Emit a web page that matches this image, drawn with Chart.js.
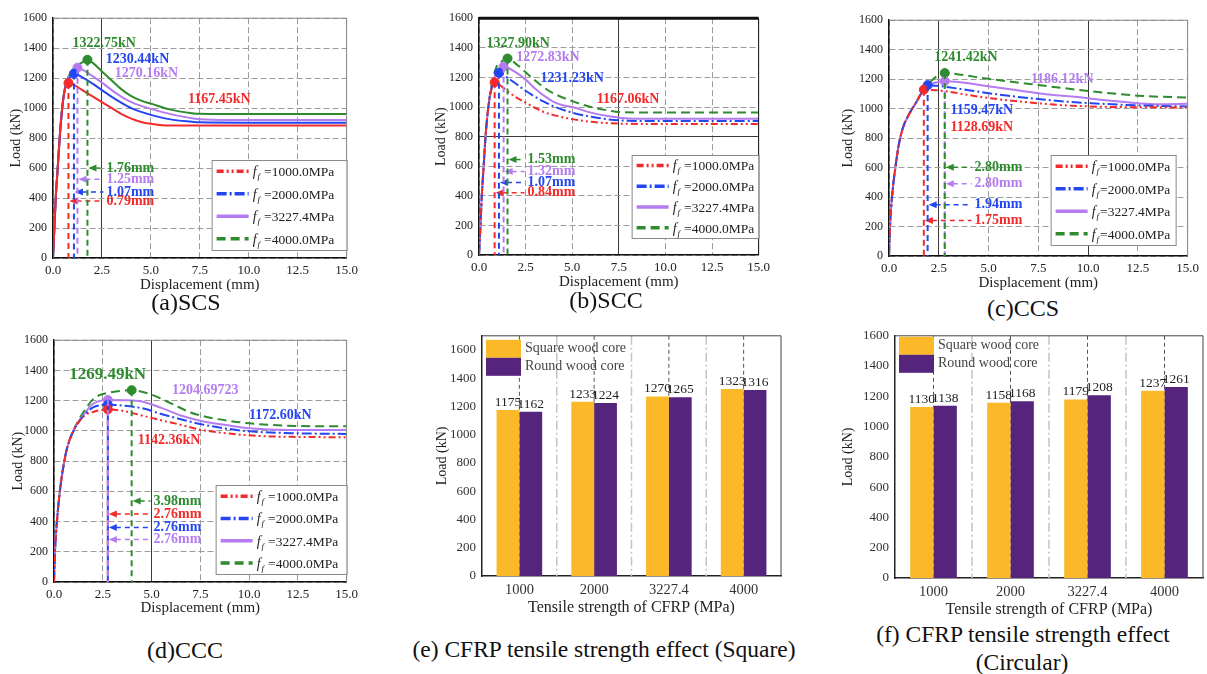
<!DOCTYPE html>
<html>
<head>
<meta charset="utf-8">
<script src="https://cdn.jsdelivr.net/npm/chart.js@4.4.0/dist/chart.umd.min.js"></script>
<style>
  body { margin: 0; background: #fff; width: 1207px; height: 674px; position: relative; overflow: hidden; font-family: "Liberation Serif", "Times New Roman", serif; }
  .panel { position: absolute; }
  .cap { position: absolute; transform: translateX(-50%); white-space: nowrap; line-height: 1; color: #111; }
</style>
</head>
<body>
<div class="panel" style="left:5px;top:5px;width:358px;height:289px"><canvas id="chartSCS"></canvas></div>
<div class="panel" style="left:430px;top:5px;width:345px;height:286px"><canvas id="chartSCC"></canvas></div>
<div class="panel" style="left:840px;top:7px;width:364px;height:285px"><canvas id="chartCCS"></canvas></div>
<div class="panel" style="left:10px;top:327px;width:353px;height:290px"><canvas id="chartCCC"></canvas></div>
<div class="panel" style="left:434px;top:322px;width:359px;height:295px"><canvas id="chartSquare"></canvas></div>
<div class="panel" style="left:840px;top:322px;width:367px;height:297px"><canvas id="chartCircular"></canvas></div>

<div class="cap" style="left:186px;top:290px;font-size:24px">(a)SCS</div>
<div class="cap" style="left:606px;top:288px;font-size:24px">(b)SCC</div>
<div class="cap" style="left:1023px;top:296px;font-size:24px">(c)CCS</div>
<div class="cap" style="left:185px;top:638px;font-size:24px">(d)CCC</div>
<div class="cap" style="left:604px;top:638px;font-size:23.5px">(e) CFRP tensile strength effect (Square)</div>
<div class="cap" style="left:1023px;top:623px;font-size:23.5px">(f) CFRP tensile strength effect</div>
<div class="cap" style="left:1022px;top:651px;font-size:23.5px">(Circular)</div>

<script>
const SERIF = '"Liberation Serif", "Times New Roman", serif';
Chart.defaults.font.family = SERIF;
Chart.defaults.color = '#222';

// CFRP tensile strength levels
const strengthTicks = ['1000', '2000', '3227.4', '4000'];
const legendStrengths = ['1000.0', '2000.0', '3227.4', '4000.0'];
// load axis tick values (kN)
const loadTicks = [0, 200, 400, 600, 800, 1000, 1200, 1400, 1600];

// (a) SCS load-displacement curves: [displacement (mm), load (kN)]
const scs1000 = [[0,0],[0.07,200],[0.14,400],[0.24,600],[0.34,800],[0.47,1000],[0.6,1120],[0.79,1167.45],[1.0,1160],[1.5,1120],[2.0,1080],[2.5,1040],[3.0,1000],[3.5,960],[4.0,930],[4.5,908],[5.0,895],[5.6,886],[6.5,884],[10,884],[15,884]];
const scs2000 = [[0,0],[0.07,200],[0.14,400],[0.24,600],[0.34,800],[0.47,1000],[0.6,1120],[0.8,1190],[1.07,1230.44],[1.5,1205],[2.0,1165],[2.5,1120],[3.0,1075],[3.5,1035],[4.0,1000],[4.5,975],[5.0,955],[6.0,925],[7.0,910],[7.5,905],[10,903],[15,903]];
const scs3227 = [[0,0],[0.07,200],[0.14,400],[0.24,600],[0.34,800],[0.47,1000],[0.6,1125],[0.85,1215],[1.25,1270.16],[1.6,1250],[2.0,1215],[2.5,1170],[3.0,1120],[3.5,1075],[4.0,1040],[4.5,1015],[5.0,995],[6.0,960],[7.0,935],[7.5,925],[9,920],[15,920]];
const scs4000 = [[0,0],[0.07,200],[0.14,400],[0.24,600],[0.34,800],[0.47,1000],[0.6,1130],[0.85,1225],[1.2,1280],[1.5,1305],[1.76,1322.75],[2.0,1305],[2.5,1245],[3.0,1185],[3.5,1125],[4.0,1080],[4.5,1050],[5.0,1030],[6.0,990],[7.0,968],[7.5,962],[10,960],[15,960]];
const scsPeakDisp = [0.79, 1.07, 1.25, 1.76];
const scsPeakLoad = [1167.45, 1230.44, 1270.16, 1322.75];

// (b) SCC
const scc1000 = [[0,0],[0.08,200],[0.15,400],[0.25,600],[0.35,800],[0.5,1000],[0.65,1110],[0.84,1167.06],[1.2,1140],[1.6,1100],[2.0,1065],[2.5,1030],[3.0,995],[3.5,965],[4.0,945],[5.0,918],[6.0,900],[7.5,888],[10,885],[15,885]];
const scc2000 = [[0,0],[0.08,200],[0.15,400],[0.25,600],[0.35,800],[0.5,1000],[0.65,1115],[0.85,1190],[1.07,1231.23],[1.5,1200],[2.0,1155],[2.5,1110],[3.0,1070],[3.5,1035],[4.0,1005],[5.0,962],[6.0,935],[7.5,910],[10,905],[15,905]];
const scc3227 = [[0,0],[0.08,200],[0.15,400],[0.25,600],[0.35,800],[0.5,1000],[0.65,1120],[0.95,1235],[1.32,1272.83],[1.6,1262],[2.0,1232],[2.5,1185],[3.0,1125],[3.5,1075],[4.0,1035],[4.5,1012],[5.0,1000],[6.0,962],[7.0,937],[8.0,922],[10,920],[15,920]];
const scc4000 = [[0,0],[0.08,200],[0.15,400],[0.25,600],[0.35,800],[0.5,1000],[0.65,1130],[0.9,1260],[1.2,1305],[1.53,1327.9],[2.0,1290],[2.5,1235],[3.0,1180],[3.5,1130],[4.0,1092],[5.0,1040],[6.0,1000],[7.0,975],[7.5,966],[10,962],[15,962]];
const sccPeakDisp = [0.84, 1.07, 1.32, 1.53];
const sccPeakLoad = [1167.06, 1231.23, 1272.83, 1327.90];

// (c) CCS
const ccs1000 = [[0,0],[0.05,200],[0.15,400],[0.3,580],[0.5,760],[0.7,870],[1.0,960],[1.4,1050],[1.75,1128.69],[2.2,1127],[3.0,1115],[4.0,1092],[5.0,1072],[6.0,1056],[7.5,1036],[9.0,1021],[10,1015],[12,1010],[15,1008]];
const ccs2000 = [[0,0],[0.05,200],[0.15,400],[0.3,580],[0.5,760],[0.7,870],[1.0,960],[1.4,1050],[1.7,1120],[1.94,1159.47],[2.4,1155],[3.0,1145],[4.0,1125],[5.0,1105],[6.0,1087],[7.5,1065],[9.0,1046],[10,1038],[12.5,1022],[15,1015]];
const ccs3227 = [[0,0],[0.05,200],[0.15,400],[0.3,580],[0.5,760],[0.7,870],[1.0,960],[1.4,1050],[1.7,1120],[2.1,1165],[2.5,1182],[2.8,1186.12],[3.5,1181],[5.0,1152],[7.5,1105],[10,1070],[11,1055],[12.5,1037],[13.5,1030],[15,1033]];
const ccs4000 = [[0,0],[0.05,200],[0.15,400],[0.3,580],[0.5,760],[0.7,870],[1.0,960],[1.4,1050],[1.7,1125],[2.1,1185],[2.5,1228],[2.8,1241.42],[3.5,1232],[5.0,1202],[7.5,1160],[10,1120],[12.5,1088],[15,1075]];
const ccsPeakDisp = [1.75, 1.94, 2.80, 2.80];
const ccsPeakLoad = [1128.69, 1159.47, 1186.12, 1241.42];

// (d) CCC
const ccc1000 = [[0,0],[0.05,200],[0.15,400],[0.3,600],[0.5,780],[0.7,900],[1.0,1000],[1.3,1065],[1.6,1105],[2.0,1125],[2.76,1142.36],[3.5,1133],[4.5,1102],[5.5,1070],[6.5,1040],[7.5,1008],[9.0,982],[10.5,966],[12.5,960],[15,958]];
const ccc2000 = [[0,0],[0.05,200],[0.15,400],[0.3,600],[0.5,780],[0.7,900],[1.0,1000],[1.3,1065],[1.6,1110],[2.0,1155],[2.76,1172.60],[3.5,1168],[4.5,1150],[5.5,1112],[6.5,1077],[7.5,1045],[9.0,1012],[10,997],[12.5,984],[15,980]];
const ccc3227 = [[0,0],[0.05,200],[0.15,400],[0.3,600],[0.5,780],[0.7,900],[1.0,1000],[1.3,1070],[1.6,1120],[1.9,1170],[2.3,1197],[2.76,1204.69723],[3.5,1203],[4.5,1194],[5.5,1152],[6.5,1102],[7.5,1067],[9.0,1035],[10,1018],[12,1006],[15,1005]];
const ccc4000 = [[0,0],[0.05,200],[0.15,400],[0.3,600],[0.5,780],[0.7,900],[1.0,1005],[1.3,1080],[1.6,1140],[1.9,1195],[2.3,1235],[2.8,1252],[3.98,1269.49],[5.0,1240],[6.0,1182],[7.0,1122],[8.0,1087],[9.0,1066],[10,1050],[12.5,1032],[15,1030]];
const cccPeakDisp = [2.76, 2.76, 2.76, 3.98];
const cccPeakLoad = [1142.36, 1172.60, 1204.69723, 1269.49];

// (e) square sections and (f) circular sections: peak load (kN)
const squareSecSquareCore = [1175, 1233, 1270, 1323];
const squareSecRoundCore = [1162, 1224, 1265, 1316];
const circSecSquareCore = [1130, 1158, 1179, 1237];
const circSecRoundCore = [1138, 1168, 1208, 1261];

const seriesColors = ['#f42a2a', '#2346f2', '#b47cf0', '#2e8b2e'];
const seriesDash = [[7, 3, 2, 3, 2, 3], [10, 3, 2, 3], [], [9, 5]];

function loadNotes(p) {
  return {
    id: 'loadNotes',
    afterDatasetsDraw(chart) {
      const { ctx, chartArea: a, scales: { x, y } } = chart;
      ctx.save();
      p.peakDisp.forEach((d, i) => {
        const col = seriesColors[i];
        const px = x.getPixelForValue(d);
        const py = y.getPixelForValue(p.peakLoad[i]);
        ctx.strokeStyle = col;
        ctx.fillStyle = col;
        // drop line from the peak down to the axis
        ctx.lineWidth = 2;
        ctx.setLineDash([6, 4]);
        ctx.beginPath(); ctx.moveTo(px, py); ctx.lineTo(px, a.bottom); ctx.stroke();
        // arrow back to the drop line with the displacement at peak
        const ay = y.getPixelForValue(p.arrowAt[i]);
        const tx = x.getPixelForValue(p.arrowTextX);
        ctx.lineWidth = 1.5;
        ctx.setLineDash([5, 4]);
        ctx.beginPath(); ctx.moveTo(px + 8, ay); ctx.lineTo(tx - 3, ay); ctx.stroke();
        ctx.setLineDash([]);
        ctx.beginPath(); ctx.moveTo(px + 1, ay); ctx.lineTo(px + 9, ay - 3.5); ctx.lineTo(px + 9, ay + 3.5); ctx.closePath(); ctx.fill();
        ctx.font = `bold 14px ${SERIF}`;
        ctx.textAlign = 'left';
        ctx.textBaseline = 'middle';
        ctx.fillText(d.toFixed(2) + 'mm', tx, ay);
        // peak load label
        const [lx, ly] = p.peakLabelAt[i];
        ctx.font = `bold ${p.peakFont[i]}px ${SERIF}`;
        ctx.textAlign = 'center';
        const txt = p.rawLabel[i] ? String(p.peakLoad[i]) : p.peakLoad[i].toFixed(2) + 'kN';
        ctx.fillText(txt, x.getPixelForValue(lx), y.getPixelForValue(ly));
      });
      ctx.restore();
    },
    afterDraw(chart) {
      const { ctx, chartArea: a } = chart;
      ctx.save();
      // top and right edges of the frame
      ctx.strokeStyle = p.frameColor;
      ctx.lineWidth = p.frameTop;
      ctx.beginPath(); ctx.moveTo(a.left, a.top); ctx.lineTo(a.right, a.top); ctx.stroke();
      ctx.lineWidth = 1;
      ctx.beginPath(); ctx.moveTo(a.right, a.top); ctx.lineTo(a.right, a.bottom); ctx.stroke();

      // legend box, bottom right
      const L = p.legend;
      const bx = a.right - L.right - L.w;
      const by = a.bottom - L.bottom - L.h;
      ctx.fillStyle = '#fff';
      ctx.fillRect(bx, by, L.w, L.h);
      ctx.strokeStyle = '#8a8a8a';
      ctx.strokeRect(bx + 0.5, by + 0.5, L.w, L.h);
      const rowH = L.h / 4;
      legendStrengths.forEach((s, i) => {
        const cy = by + rowH * (i + 0.5);
        ctx.strokeStyle = seriesColors[i];
        ctx.lineWidth = 3.5;
        ctx.setLineDash(seriesDash[i]);
        ctx.beginPath(); ctx.moveTo(bx + 5, cy); ctx.lineTo(bx + 37, cy); ctx.stroke();
        ctx.setLineDash([]);
        ctx.fillStyle = '#222';
        ctx.textAlign = 'left';
        ctx.textBaseline = 'alphabetic';
        let tx = bx + 41;
        ctx.font = `italic 14px ${SERIF}`;
        ctx.fillText('f', tx, cy + 5);
        tx += ctx.measureText('f').width + 1;
        ctx.font = `italic 9px ${SERIF}`;
        ctx.fillText('f', tx, cy + 8);
        tx += ctx.measureText('f').width + p.eqGap;
        ctx.font = `13.5px ${SERIF}`;
        ctx.fillText('=' + s + 'MPa', tx, cy + 5);
      });
      ctx.restore();
    }
  };
}

function loadChart(id, p) {
  const datasets = p.curves.map((pts, i) => ({
    data: pts.map(([x, y]) => ({ x, y })),
    borderColor: seriesColors[i],
    borderWidth: 2,
    borderDash: p.solid ? [] : seriesDash[i],
    pointRadius: 0,
    cubicInterpolationMode: 'monotone',
    fill: false
  }));
  p.peakDisp.forEach((d, i) => datasets.push({
    data: [{ x: d, y: p.peakLoad[i] }],
    showLine: false,
    pointRadius: 4.5,
    pointBackgroundColor: seriesColors[i],
    pointBorderColor: seriesColors[i],
    order: -1
  }));
  const gridColor = (list) => (c) => (c.tick && list.includes(c.tick.value) ? '#3a3a3a' : '#9c9c9c');
  const gridDash = (list) => (c) => (c.tick && list.includes(c.tick.value) ? [] : [6, 3]);
  new Chart(document.getElementById(id), {
    type: 'line',
    data: { datasets },
    options: {
      responsive: true,
      maintainAspectRatio: false,
      animation: false,
      layout: { padding: p.pad },
      plugins: { legend: { display: false }, tooltip: { enabled: false } },
      scales: {
        x: {
          type: 'linear', min: 0, max: 15,
          ticks: { stepSize: 2.5, callback: v => v.toFixed(1), font: { size: 13 }, padding: 5, maxRotation: 0, color: '#222' },
          grid: { color: gridColor(p.darkX), lineWidth: 1, drawTicks: false },
          border: { color: '#111', width: 1.5, dash: gridDash(p.darkX) },
          title: { display: true, text: 'Displacement (mm)', font: { size: 15 }, padding: 0, color: '#222' },
          afterFit: s => { s.height = p.xH; }
        },
        y: {
          min: 0, max: 1600,
          afterBuildTicks: s => { s.ticks = loadTicks.map(value => ({ value })); },
          ticks: { callback: v => String(v), font: { size: 12 }, padding: 6, color: '#222' },
          grid: { color: gridColor(p.darkY), lineWidth: 1, drawTicks: false },
          border: { color: '#111', width: 1.5, dash: gridDash(p.darkY) },
          title: { display: true, text: 'Load (kN)', font: { size: 14 }, padding: { top: p.yTitlePad, bottom: 0 }, color: '#222' },
          afterFit: s => { s.width = p.yW; }
        }
      }
    },
    plugins: [loadNotes(p)]
  });
}

loadChart('chartSCS', {
  curves: [scs1000, scs2000, scs3227, scs4000], peakDisp: scsPeakDisp, peakLoad: scsPeakLoad,
  solid: true, pad: { left: 0, top: 10, right: 15, bottom: 0 }, yW: 48, xH: 36, yTitlePad: 3,
  peakLabelAt: [[8.5, 1060], [4.32, 1323], [4.77, 1231], [2.62, 1435]], peakFont: [14, 14, 14, 14], rawLabel: [false, false, false, false],
  arrowAt: [380, 440, 525, 600], arrowTextX: 2.73,
  legend: { w: 135, h: 90, right: 0, bottom: 8 }, eqGap: 4,
  darkX: [2.5], darkY: [], frameColor: '#888', frameTop: 1
});
loadChart('chartSCC', {
  curves: [scc1000, scc2000, scc3227, scc4000], peakDisp: sccPeakDisp, peakLoad: sccPeakLoad,
  solid: false, pad: { left: 0, top: 10, right: 15, bottom: 0 }, yW: 49, xH: 36, yTitlePad: 3,
  peakLabelAt: [[8.0, 1053], [5.0, 1193], [3.7, 1333], [2.1, 1433]], peakFont: [14, 14, 14, 14], rawLabel: [false, false, false, false],
  arrowAt: [420, 490, 565, 645], arrowTextX: 2.6,
  legend: { w: 127, h: 83, right: 0, bottom: 17 }, eqGap: 4,
  darkX: [7.5], darkY: [800], frameColor: '#111', frameTop: 3
});
loadChart('chartCCS', {
  curves: [ccs1000, ccs2000, ccs3227, ccs4000], peakDisp: ccsPeakDisp, peakLoad: ccsPeakLoad,
  solid: false, pad: { left: 0, top: 10, right: 12, bottom: 0 }, yW: 49, xH: 36, yTitlePad: 0,
  peakLabelAt: [[4.66, 870], [4.66, 990], [8.7, 1198], [3.86, 1345]], peakFont: [14, 14, 14, 14], rawLabel: [false, false, false, false],
  arrowAt: [241, 348, 491, 602], arrowTextX: 4.3,
  legend: { w: 125, h: 90, right: 12, bottom: 11 }, eqGap: 1,
  darkX: [2.5, 10], darkY: [], frameColor: '#888', frameTop: 1
});
loadChart('chartCCC', {
  curves: [ccc1000, ccc2000, ccc3227, ccc4000], peakDisp: cccPeakDisp, peakLoad: cccPeakLoad,
  solid: false, pad: { left: 0, top: 10, right: 15, bottom: 0 }, yW: 44, xH: 35, yTitlePad: 0,
  peakLabelAt: [[5.9, 940], [11.6, 1105], [7.75, 1268], [2.75, 1373]], peakFont: [14, 14, 14, 17], rawLabel: [false, false, true, false],
  arrowAt: [450, 360, 281, 536], arrowTextX: 5.1,
  legend: { w: 131, h: 89, right: 0, bottom: 8 }, eqGap: 4,
  darkX: [5], darkY: [], frameColor: '#888', frameTop: 1
});

function barNotes(p) {
  return {
    id: 'barNotes',
    beforeDatasetsDraw(chart) {
      const { ctx, chartArea: a, scales: { x } } = chart;
      const centers = strengthTicks.map((_, i) => x.getPixelForValue(i));
      ctx.save();
      // light dash-dot separators between groups
      ctx.strokeStyle = '#c4c4c4';
      ctx.lineWidth = 1.5;
      ctx.setLineDash([9, 3, 2, 3]);
      for (let i = 0; i < centers.length - 1; i++) {
        const sx = (centers[i] + centers[i + 1]) / 2;
        ctx.beginPath(); ctx.moveTo(sx, a.top); ctx.lineTo(sx, a.bottom); ctx.stroke();
      }
      // dark dashed lines through each group centre
      ctx.strokeStyle = '#555';
      ctx.lineWidth = 1;
      ctx.setLineDash([4, 3]);
      centers.forEach(cx => { ctx.beginPath(); ctx.moveTo(cx, a.top); ctx.lineTo(cx, a.bottom); ctx.stroke(); });
      ctx.restore();
    },
    afterDatasetsDraw(chart) {
      const { ctx } = chart;
      ctx.save();
      ctx.font = `13.5px ${SERIF}`;
      ctx.fillStyle = '#222';
      ctx.textAlign = 'center';
      ctx.textBaseline = 'bottom';
      chart.data.datasets.forEach((ds, di) => {
        chart.getDatasetMeta(di).data.forEach((bar, i) => ctx.fillText(String(ds.data[i]), bar.x, bar.y - 1));
      });
      ctx.restore();
    },
    afterDraw(chart) {
      const { ctx, chartArea: a } = chart;
      ctx.save();
      ctx.strokeStyle = '#444';
      ctx.lineWidth = 1;
      ctx.beginPath(); ctx.moveTo(a.left, a.top); ctx.lineTo(a.right, a.top); ctx.lineTo(a.right, a.bottom); ctx.stroke();
      // legend, top left
      const lx = a.left + 4, ly = a.top + p.legendTop;
      chart.data.datasets.forEach((ds, i) => {
        ctx.fillStyle = ds.backgroundColor;
        ctx.fillRect(lx, ly + i * 18, 35, 18);
        ctx.fillStyle = '#444';
        ctx.font = `14px ${SERIF}`;
        ctx.textAlign = 'left';
        ctx.textBaseline = 'middle';
        ctx.fillText(ds.label, lx + 39, ly + i * 18 + 9);
      });
      ctx.restore();
    }
  };
}

function strengthBars(id, p) {
  new Chart(document.getElementById(id), {
    type: 'bar',
    data: {
      labels: strengthTicks,
      datasets: [
        { label: 'Square wood core', data: p.squareCore, backgroundColor: '#fbb829' },
        { label: 'Round wood core', data: p.roundCore, backgroundColor: '#55247c' }
      ]
    },
    options: {
      responsive: true,
      maintainAspectRatio: false,
      animation: false,
      layout: { padding: p.pad },
      datasets: { bar: { barPercentage: 1, categoryPercentage: p.catPct } },
      plugins: { legend: { display: false }, tooltip: { enabled: false } },
      scales: {
        x: {
          grid: { display: false, drawTicks: false },
          border: { color: '#222', width: 1.5 },
          ticks: { font: { size: 14.5 }, padding: 5, color: '#333' },
          title: { display: true, text: 'Tensile strength of CFRP (MPa)', font: { size: 16 }, padding: 0, color: '#222' },
          afterFit: s => { s.height = p.xH; }
        },
        y: {
          min: 0, max: p.yMax,
          afterBuildTicks: s => { s.ticks = loadTicks.map(value => ({ value })); },
          ticks: { callback: v => String(v), font: { size: 13 }, padding: 6, color: '#333' },
          grid: { display: false, drawTicks: false },
          border: { color: '#222', width: 1.5 },
          title: { display: true, text: 'Load (kN)', font: { size: 14 }, padding: 0, color: '#222' },
          afterFit: s => { s.width = p.yW; }
        }
      }
    },
    plugins: [barNotes(p)]
  });
}

strengthBars('chartSquare', {
  squareCore: squareSecSquareCore, roundCore: squareSecRoundCore,
  pad: { left: 0, top: 11, right: 12, bottom: 0 }, yW: 48, xH: 41, yMax: 1700, catPct: 0.61, legendTop: 4
});
strengthBars('chartCircular', {
  squareCore: circSecSquareCore, roundCore: circSecRoundCore,
  pad: { left: 0, top: 12, right: 4, bottom: 0 }, yW: 55, xH: 41, yMax: 1600, catPct: 0.606, legendTop: 1
});
</script>
</body>
</html>
